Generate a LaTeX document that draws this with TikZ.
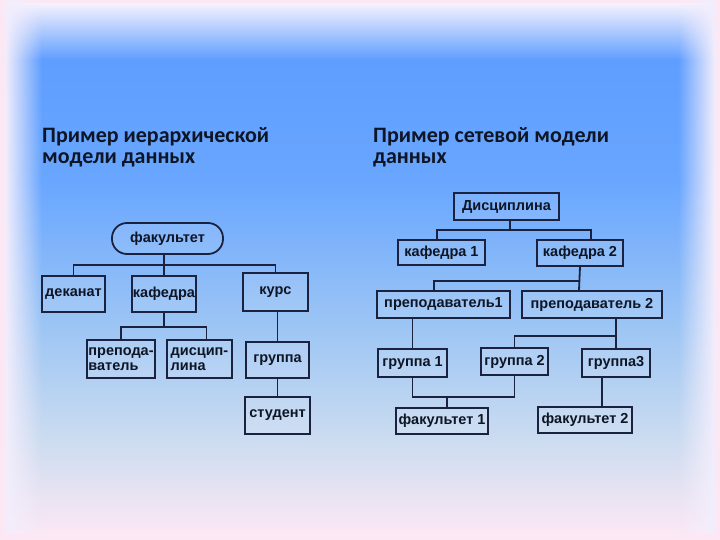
\documentclass[tikz,border=0pt]{standalone}
\usepackage{fontspec}
\setmainfont{Liberation Sans}
\newfontfamily\titlefont{Carlito}
\usetikzlibrary{positioning,fadings}

\definecolor{bgpink}{HTML}{FCE8F4}
\definecolor{bgblue}{HTML}{5F9EFF}
\definecolor{frame}{HTML}{1A2240}
\definecolor{ink}{HTML}{0E1524}

\tikzfading[name=fadeleft, left color=transparent!0, right color=transparent!100]
\tikzfading[name=faderight, left color=transparent!100, right color=transparent!0]

\begin{document}
\begin{tikzpicture}[x=1pt,y=-1pt,
    every node/.style={font=\fontsize{14.5}{15.5}\selectfont\bfseries, text=ink},
    unit/.style={draw=frame, line width=1.8pt, fill=white, fill opacity=0.1,
      text opacity=1, inner sep=0.5pt, align=center},
    link/.style={draw=frame, line width=1.8pt},
    heading/.style={font=\titlefont\fontsize{22}{21}\selectfont\bfseries,
      align=left, anchor=north west, inner sep=0pt}]
  % background
  \fill[bgpink] (0,0) rectangle (720,540);
  \shade[top color=bgpink!80!blue!20, bottom color=bgblue] (0,4) rectangle (720,60);
  \shade[top color=bgblue, bottom color={rgb,255:red,104;green,166;blue,255}] (0,60) rectangle (720,180);
  \shade[top color={rgb,255:red,104;green,166;blue,255}, bottom color={rgb,255:red,158;green,198;blue,244}] (0,180) rectangle (720,330);
  \shade[top color={rgb,255:red,158;green,198;blue,244}, bottom color={rgb,255:red,204;green,220;blue,240}] (0,330) rectangle (720,440);
  \shade[top color={rgb,255:red,204;green,220;blue,240}, bottom color=bgpink] (0,440) rectangle (720,534);
  \fill[bgpink] (0,534) rectangle (720,540);
  \fill[bgpink] (0,0) rectangle (5,540);
  \fill[bgpink] (715,0) rectangle (720,540);
  \fill[bgpink!85!blue!30, path fading=fadeleft] (5,0) rectangle (42,534);
  \fill[bgpink!85!blue!30, path fading=faderight] (678,0) rectangle (715,534);

  % headings
  \node[heading] (hleft) at (42,127) {Пример иерархической\\модели данных};
  \node[heading] (hright) at (373,127) {Пример сетевой модели\\данных};

  % hierarchical model
  \node[unit, rounded corners=15pt, minimum width=111pt, minimum height=31pt] (fac) at (167.5,238.5) {факультет};
  \node[unit, minimum width=63pt, minimum height=36pt] (dek) at (73.5,294) {деканат};
  \node[unit, minimum width=64pt, minimum height=36pt] (kaf) at (164,294) {кафедра};
  \node[unit, minimum width=65pt, minimum height=38pt] (kur) at (275.5,292) {курс};
  \node[unit, align=left, minimum width=68pt, minimum height=38pt] (pre) at (121,359) {препода-\\ватель};
  \node[unit, align=left, minimum width=65pt, minimum height=38pt] (dsc) at (199.5,359) {дисцип-\\лина};
  \node[unit, minimum width=63pt, minimum height=36pt] (gru) at (277.5,360) {группа};
  \node[unit, minimum width=65pt, minimum height=37pt] (stu) at (277.5,415.5) {студент};

  \coordinate (busA) at (0,265);
  \coordinate (busB) at (0,327);
  \draw[link] (kaf.north) -- (kaf.north |- fac.south);
  \draw[link] (dek.north) |- (busA -| kur.north) -- (kur.north);
  \draw[link] (kaf.south) -- (kaf.south |- busB);
  \draw[link] (pre.north) |- ([xshift=7pt]dsc.north |- busB) -- ([xshift=7pt]dsc.north);
  \draw[link] (gru.north) -- (gru.north |- kur.south);
  \draw[link] (gru.south) -- (stu.north);

  % network model
  \node[unit, minimum width=105pt, minimum height=27pt] (dis) at (506.5,206.5) {Дисциплина};
  \node[unit, minimum width=87pt, minimum height=25pt] (kaf1) at (441.5,252.5) {кафедра 1};
  \node[unit, minimum width=86pt, minimum height=26pt] (kaf2) at (580,253) {кафедра 2};
  \node[unit, minimum width=133pt, minimum height=27pt] (prep1) at (443.5,304.5) {преподаватель1};
  \node[unit, minimum width=140pt, minimum height=27pt] (prep2) at (592,304.5) {преподаватель 2};
  \node[unit, minimum width=69pt, minimum height=28pt] (gr1) at (412.5,363) {группа 1};
  \node[unit, minimum width=67pt, minimum height=27pt] (gr2) at (514.5,361.5) {группа 2};
  \node[unit, minimum width=68pt, minimum height=28pt] (gr3) at (616,363) {группа3};
  \node[unit, minimum width=92pt, minimum height=26pt] (fk1) at (442,421) {факультет 1};
  \node[unit, minimum width=94pt, minimum height=26pt] (fk2) at (585,420) {факультет 2};

  \coordinate (busC) at (0,230);
  \coordinate (busD) at (0,281);
  \coordinate (busE) at (0,336);
  \coordinate (busF) at (0,397);
  \draw[link] ([xshift=3.5pt]dis.south) -- ([xshift=3.5pt]dis.south |- busC);
  \draw[link] ([xshift=-4.5pt]kaf1.north) |- ([xshift=11pt]kaf2.north |- busC) -- ([xshift=11pt]kaf2.north);
  \draw[link] (kaf2.south) -- ([xshift=-13pt]prep2.north);
  \draw[link] ([xshift=-9.5pt]prep1.north) |- (kaf2.south |- busD);
  \draw[link] (gr1.north) -- (gr1.north |- prep1.south);
  \draw[link] (gr3.north) -- (gr3.north |- prep2.south);
  \draw[link] (gr2.north) |- (gr3.north |- busE);
  \draw[link] (gr1.south) |- (gr2.south |- busF) -- (gr2.south);
  \draw[link] ([xshift=5pt]fk1.north) -- ([xshift=5pt]fk1.north |- busF);
  \draw[link] ([xshift=17pt]fk2.north) -- ([xshift=-14pt]gr3.south);
\end{tikzpicture}
\end{document}
